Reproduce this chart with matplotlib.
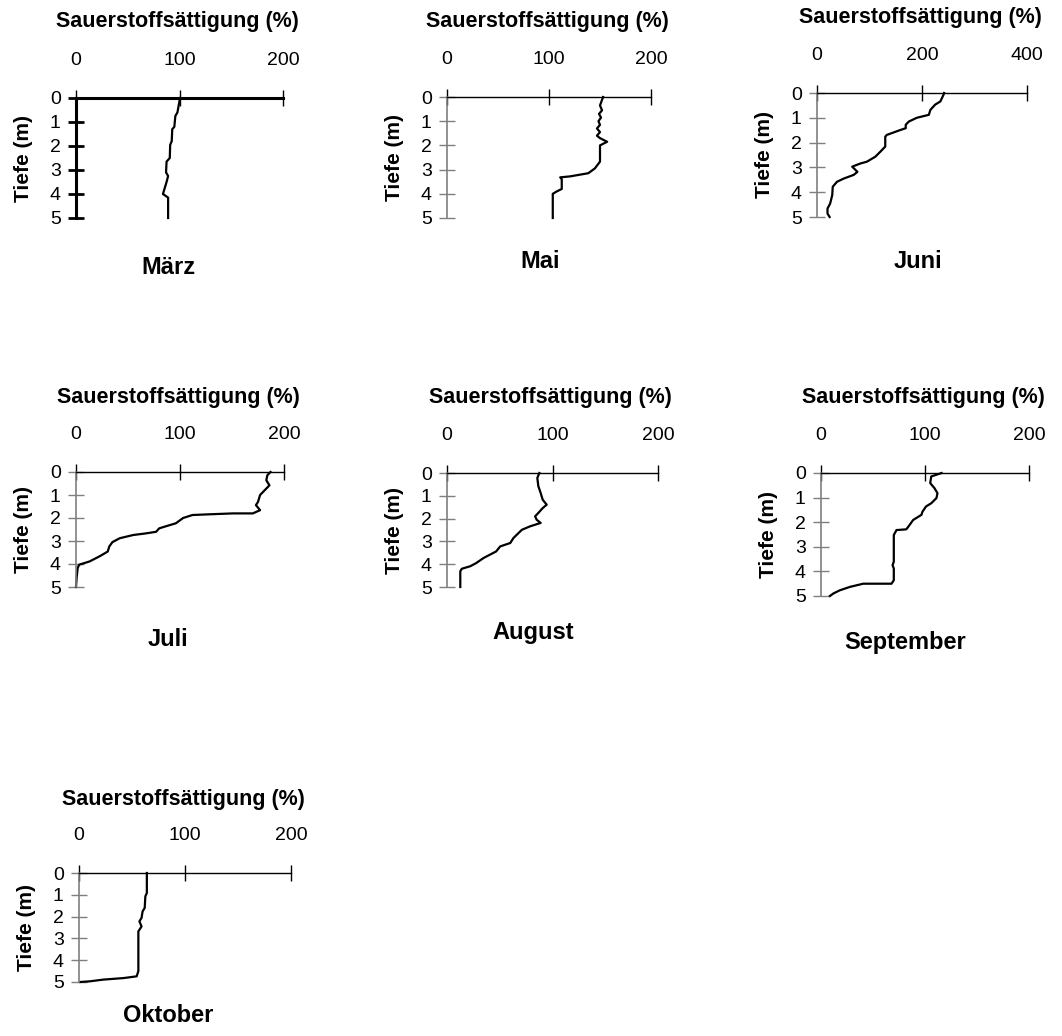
import matplotlib
matplotlib.use("Agg")
import matplotlib.pyplot as plt

plt.rcParams["font.family"] = ["Liberation Sans", "DejaVu Sans"]

W, H = 1062, 1036

MONATE = ["März", "Mai", "Juni", "Juli", "August", "September", "Oktober"]

# Tiefe (m) and Sauerstoffsättigung (%) per Monat
maerz_tiefe = [0, 0.6, 0.75, 1.2, 1.3, 1.8, 1.95, 2.5, 2.65, 3.1, 3.25, 3.5, 4.0, 4.15, 5.0]
maerz_saett = [100.5, 98, 96, 95, 93, 92.5, 91, 90.6, 87.5, 87, 89, 87.5, 84, 89, 89]

mai_tiefe = [0, 0.35, 0.55, 0.7, 0.85, 1.0, 1.15, 1.3, 1.45, 1.6, 1.7, 1.85, 2.0, 2.67,
             2.95, 3.15, 3.28, 3.32, 3.4, 3.8, 3.9, 4.0, 5.0]
mai_saett = [153, 150, 152, 149, 151, 148.5, 150, 147, 150, 147, 150, 157, 150, 150,
             145, 138.5, 120.7, 111, 112.5, 112.5, 107.7, 103.7, 103.7]

juni_tiefe = [0, 0.07, 0.34, 0.47, 0.68, 0.88, 1.0, 1.15, 1.28, 1.42, 1.49, 1.69, 1.76,
              2.16, 2.36, 2.57, 2.77, 2.84, 2.97, 3.18, 3.3, 3.45, 3.58, 3.78, 4.12,
              4.46, 4.66, 4.86, 5.0]
juni_saett = [242, 241, 235, 225, 216, 213, 190, 175, 169, 169, 159, 133, 130,
              130, 121, 111, 95, 83, 67, 77, 70, 51, 38, 30, 29,
              25, 20, 20, 24]

juli_tiefe = [0, 0.14, 0.36, 0.58, 0.72, 0.86, 1.0, 1.3, 1.44, 1.66, 1.8, 1.8, 1.84,
              1.87, 2.0, 2.23, 2.38, 2.45, 2.6, 2.67, 2.74, 2.88, 3.05, 3.24, 3.46,
              3.67, 3.89, 4.03, 4.18, 4.6, 5.0]
juli_saett = [187, 184, 183, 186, 183, 180, 177, 175, 173, 177, 170, 151, 128,
              112, 103, 96, 85, 80, 77, 67, 55, 42, 35, 32, 30.5,
              22.5, 13, 3, 1.6, 0.6, 0]

august_tiefe = [0, 0.22, 0.58, 0.88, 1.17, 1.39, 1.54, 1.75, 1.9, 2.05, 2.19, 2.34,
                2.49, 2.85, 3.07, 3.22, 3.44, 3.73, 3.95, 4.09, 4.2, 4.31, 5.0]
august_saett = [87.5, 85.6, 86.6, 88.8, 90.7, 94.5, 90.7, 86.6, 83.5, 85, 88.8, 78.7,
                71, 63, 60, 50.4, 46.6, 34.6, 27.7, 22, 14, 12.6, 12.6]

september_tiefe = [0, 0.14, 0.41, 0.61, 0.82, 1.02, 1.23, 1.36, 1.57, 1.7, 1.91, 2.18,
                   2.29, 2.32, 2.52, 3.61, 3.75, 3.88, 4.36, 4.5, 4.5, 4.63, 4.77,
                   4.9, 5.0]
september_saett = [116, 106, 105, 109, 112, 111, 106, 101, 97.6, 96.6, 88.6, 84,
                   82, 72.6, 70, 70, 68.8, 70, 70, 67.8, 40.6, 27.8, 18,
                   11.8, 8.6]

oktober_tiefe = [0, 0.92, 1.07, 1.6, 1.76, 2.06, 2.22, 2.45, 2.68, 4.5, 4.74, 4.82,
                 4.89, 4.97, 5.0]
oktober_saett = [64, 64, 62.6, 62, 60, 59, 57, 59, 56, 56, 54.4, 42,
                 23, 10, 1]

TIEFEN = [maerz_tiefe, mai_tiefe, juni_tiefe, juli_tiefe, august_tiefe,
          september_tiefe, oktober_tiefe]
SAETTIGUNG = [maerz_saett, mai_saett, juni_saett, juli_saett, august_saett,
              september_saett, oktober_saett]
X_MAX = [200, 200, 400, 200, 200, 200, 200]
Y_TICKS = [0, 1, 2, 3, 4, 5]

# axes boxes in pixels: left, right, top (0 m), bottom (5 m)
BOXES = [(76, 283, 98, 218), (447, 651, 97, 218), (817, 1027, 93, 217),
         (76, 284, 472, 587), (447, 658, 473, 587), (821, 1029, 473, 596),
         (79, 291, 873, 982)]
TITLE_Y = [22, 22, 18, 397, 398, 397, 800]
MONAT_POS = [(168, 268), (540, 262), (918, 262), (168, 640), (533, 632),
             (905, 643), (168, 1015)]

fig = plt.figure(figsize=(W / 100, H / 100), dpi=100)

for i, (monat, tiefe, saett) in enumerate(zip(MONATE, TIEFEN, SAETTIGUNG)):
    l, r, t, b = BOXES[i]
    ax = fig.add_axes([l / W, 1 - b / H, (r - l) / W, (b - t) / H])
    ax.plot(saett, tiefe, color="black", lw=1.6, clip_on=False)

    ax.set_xlim(0, X_MAX[i])
    ax.set_ylim(5, 0)
    ax.set_xticks([0, X_MAX[i] / 2, X_MAX[i]])
    ax.set_xticklabels([str(v) for v in (0, X_MAX[i] // 2, X_MAX[i])])
    ax.set_yticks(Y_TICKS)

    ax.xaxis.tick_top()
    ax.spines["bottom"].set_visible(False)
    ax.spines["right"].set_visible(False)

    if i == 0:
        # first panel drawn with heavy black axes
        for s in ("top", "left"):
            ax.spines[s].set_linewidth(2.2)
            ax.spines[s].set_color("black")
        ycol, ylw = "black", 2.0
    else:
        ax.spines["top"].set_linewidth(1.0)
        ax.spines["left"].set_linewidth(1.2)
        ax.spines["left"].set_color("#7f7f7f")
        ycol, ylw = "#7f7f7f", 1.0

    ax.tick_params(axis="x", direction="inout", length=12, width=1.0,
                   pad=15, labelsize=14, color="black")
    ax.tick_params(axis="y", direction="inout", length=12, width=ylw,
                   pad=5, labelsize=14, color=ycol)

    ax.set_ylabel("Tiefe (m)", fontsize=15, fontweight="bold")
    ax.yaxis.set_label_coords(-43 / (r - l), 0.5)

    fig.text(((l + r) / 2 - 2) / W, 1 - TITLE_Y[i] / H, "Sauerstoffsättigung (%)",
             ha="center", va="center", fontsize=15.5, fontweight="bold")
    mx, my = MONAT_POS[i]
    fig.text(mx / W, 1 - my / H, monat, ha="center", va="center",
             fontsize=17, fontweight="bold")

fig.savefig("out.png", dpi=100)
